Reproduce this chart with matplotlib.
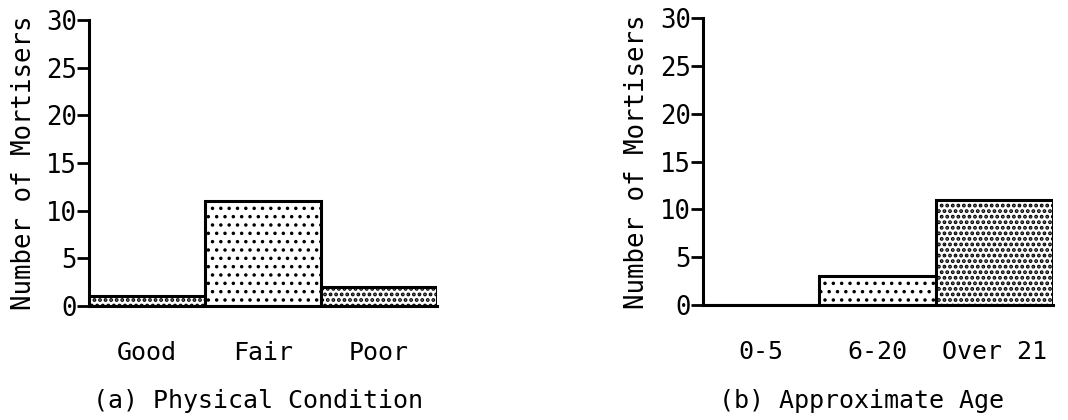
import matplotlib as mpl
import matplotlib.pyplot as plt

plt.rcParams['font.family'] = ['DejaVu Sans Mono']

# survey counts
condition_labels = ['Good', 'Fair', 'Poor']
condition_counts = [1, 11, 2]
condition_hatches = ['...', '..', '...']

age_labels = ['0-5', '6-20', 'Over 21']
age_counts = [0, 3, 11]
age_hatches = ['', '..', '...']

y_ticks = [0, 5, 10, 15, 20, 25, 30]

fig = plt.figure(figsize=(10.68, 4.2), dpi=100)
ax1 = fig.add_axes([0.0833, 0.2714, 0.326, 0.681])
ax2 = fig.add_axes([0.658, 0.2738, 0.3277, 0.683])


def draw_panel(ax, labels, counts, hatches):
    pos = range(len(counts))
    for i, (c, h) in zip(pos, zip(counts, hatches)):
        # heavier dots for the denser fills
        hlw = 1.3 if h.count('.') <= 2 else 1.9
        with mpl.rc_context({'hatch.linewidth': hlw}):
            bars = ax.bar(i, c, width=1.0, align='edge', color='white',
                          edgecolor='black', linewidth=2.2, hatch=h, zorder=2)
        for b in bars:
            if hasattr(b, 'set_hatch_linewidth'):
                b.set_hatch_linewidth(hlw)
    ax.set_xlim(0, len(counts))
    ax.set_ylim(0, 30)
    ax.set_yticks(y_ticks)
    ax.set_xticks([p + 0.5 for p in pos])
    ax.set_xticklabels(labels)
    ax.tick_params(axis='y', direction='out', length=8.5, width=2,
                   pad=0, labelsize=18.5)
    ax.tick_params(axis='x', length=0, pad=25, labelsize=18)
    for s in ['top', 'right']:
        ax.spines[s].set_visible(False)
    for s in ['left', 'bottom']:
        ax.spines[s].set_linewidth(2.2)
    ax.set_ylabel('Number of Mortisers', fontsize=18.5)
    ax.yaxis.set_label_coords(-0.15, 0.5)


draw_panel(ax1, condition_labels, condition_counts, condition_hatches)
draw_panel(ax2, age_labels, age_counts, age_hatches)

fig.text(0.2416, 0.045, '(a) Physical Condition', ha='center', va='center',
         fontsize=18)
fig.text(0.807, 0.045, '(b) Approximate Age', ha='center', va='center',
         fontsize=18)

fig.savefig('out.png', dpi=100, facecolor='white')
